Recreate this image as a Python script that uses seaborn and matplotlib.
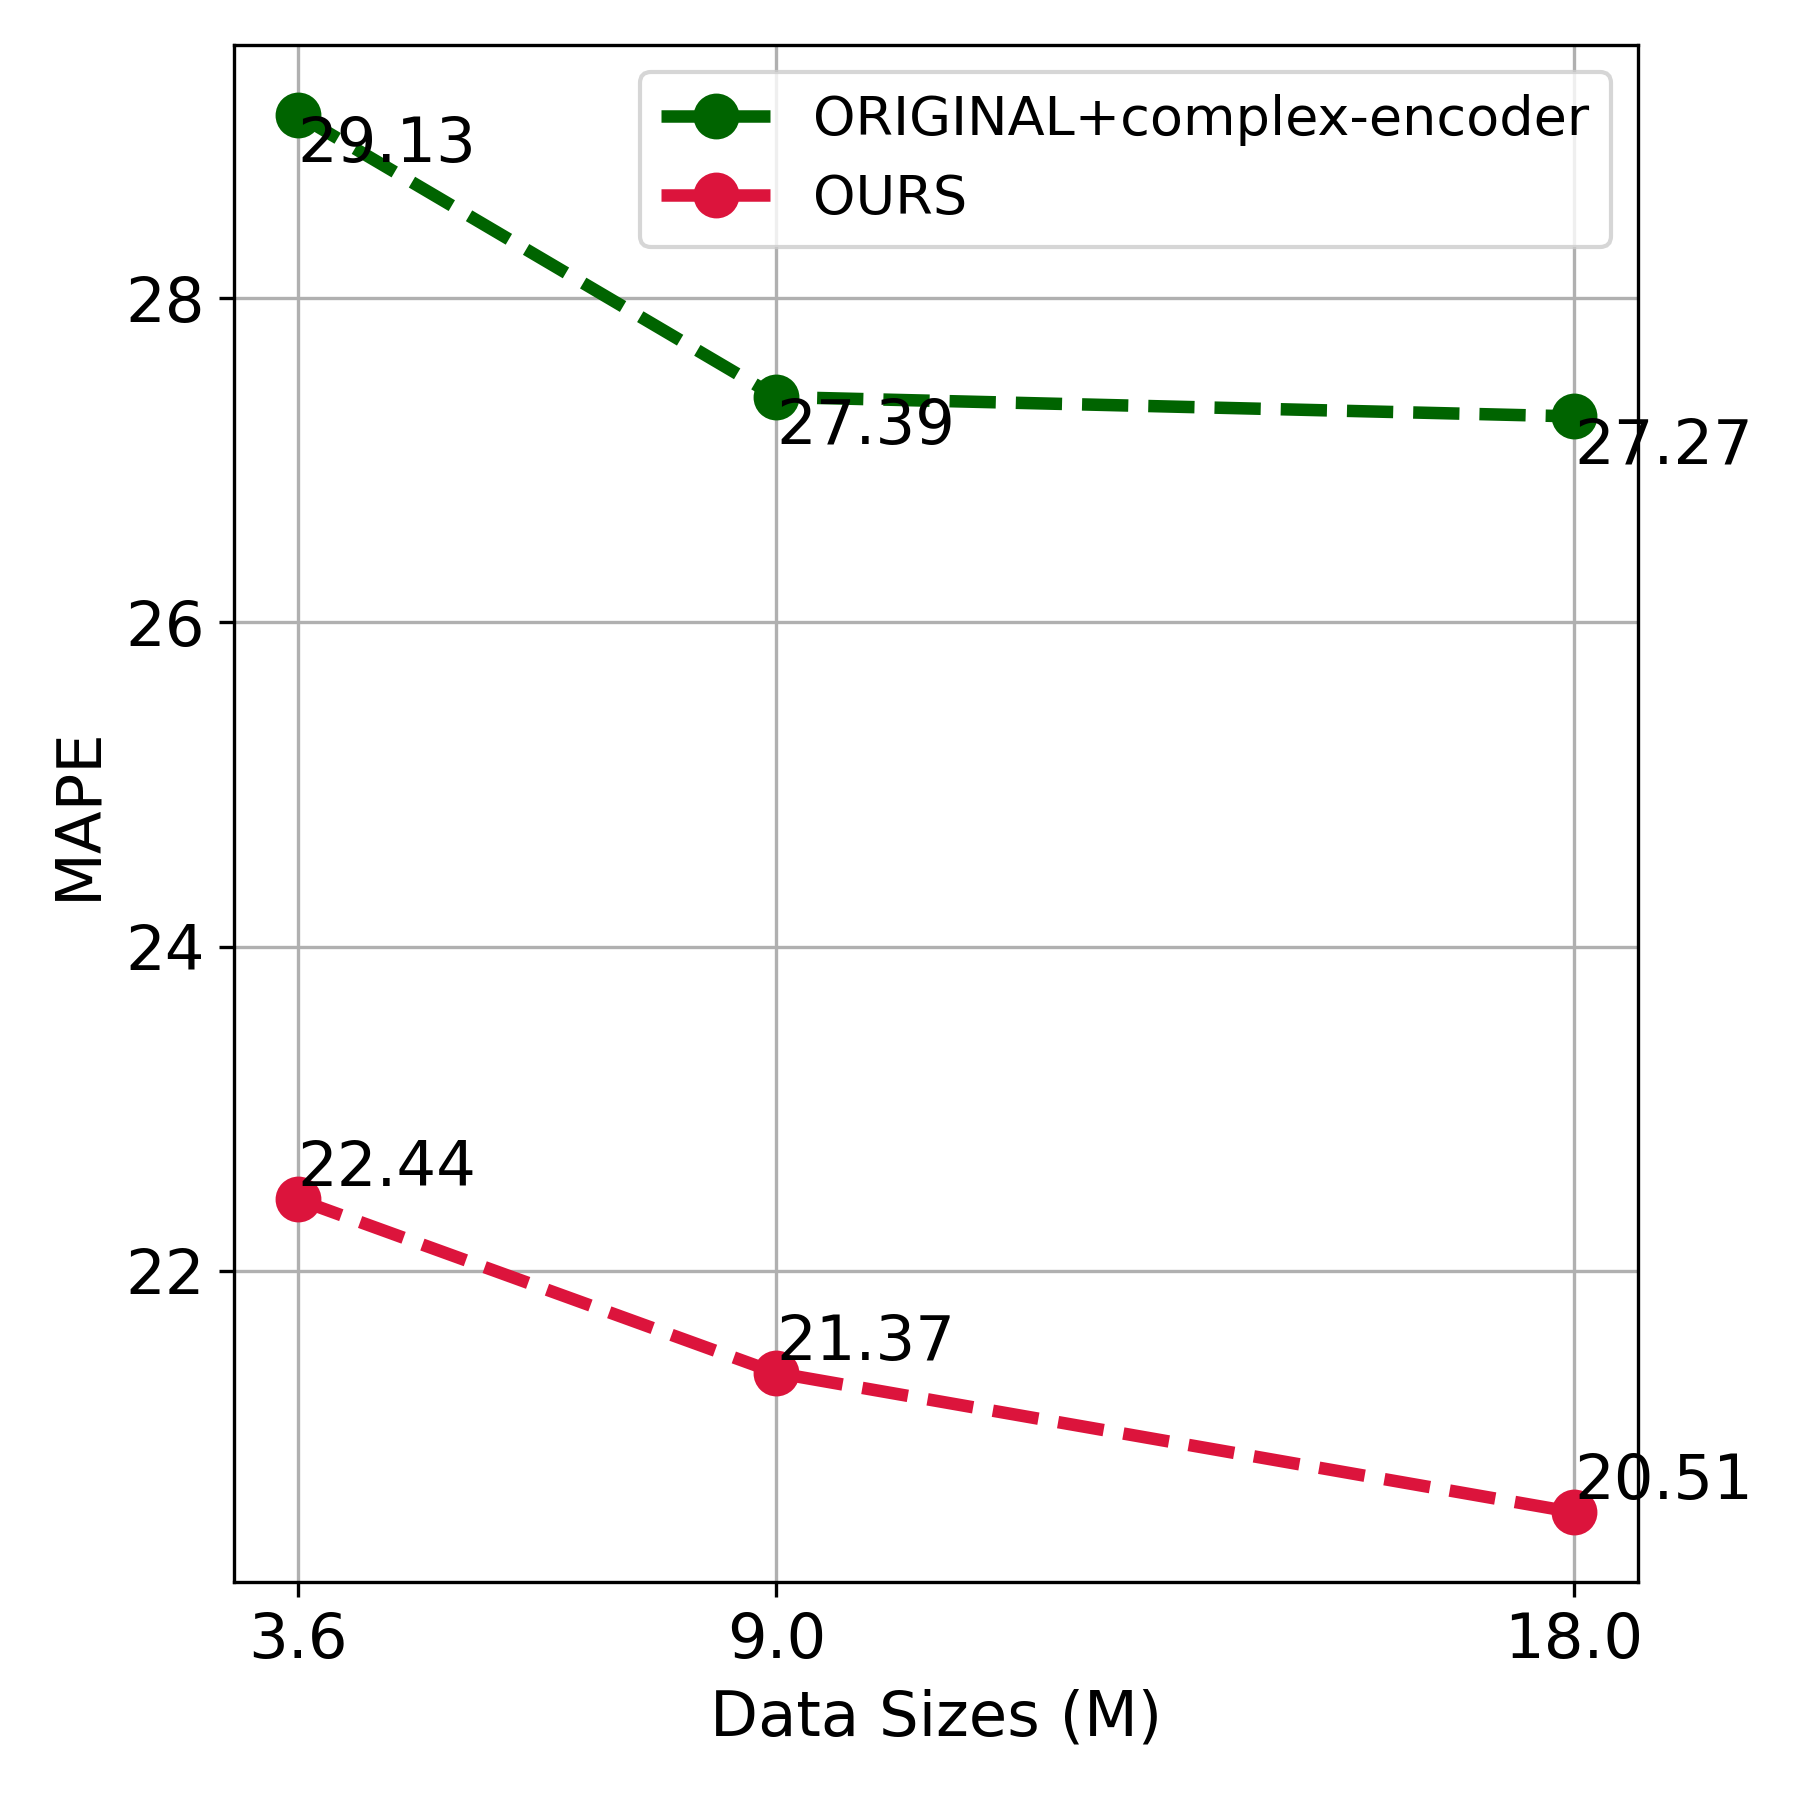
import matplotlib
matplotlib.use("Agg")
import matplotlib.pyplot as plt
import seaborn as sns
import pandas as pd

data_sizes = [3.6, 9.0, 18.0]
original_vals = [29.13, 27.39, 27.27]
ours_vals = [22.44, 21.37, 20.51]
series_names = ["ORIGINAL+complex-encoder", "OURS"]
colors = ["#006400", "#DC143C"]

sns.set_style("ticks")
plt.rcParams['font.family'] = ['DejaVu Sans']
plt.rcParams.update({
    "text.color": "black",
    "axes.labelcolor": "black",
    "xtick.color": "black",
    "ytick.color": "black",
    "axes.edgecolor": "black",
})

fig, ax = plt.subplots(figsize=(6, 6), dpi=300)

df_orig = pd.DataFrame({"x": data_sizes, "y": original_vals})
df_ours = pd.DataFrame({"x": data_sizes, "y": ours_vals})

sns.lineplot(data=df_orig, x="x", y="y", ax=ax, color=colors[0], marker="o",
             linestyle="--", linewidth=3, markersize=10, markeredgewidth=1,
             markeredgecolor=colors[0], label=series_names[0])
sns.lineplot(data=df_ours, x="x", y="y", ax=ax, color=colors[1], marker="o",
             linestyle="--", linewidth=3, markersize=10, markeredgewidth=1,
             markeredgecolor=colors[1], label=series_names[1])

for x, y in zip(data_sizes, original_vals):
    ax.text(x, y, f"{y:.2f}", ha="left", va="top", fontsize=15, color="black", zorder=5)
for x, y in zip(data_sizes, ours_vals):
    ax.text(x, y, f"{y:.2f}", ha="left", va="bottom", fontsize=15, color="black", zorder=5)

ax.set_xticks(data_sizes)
ax.set_xticklabels([f"{v:.1f}" for v in data_sizes])
ax.tick_params(axis="both", labelsize=15, direction="out", length=3.5, width=0.8,
               color="black", labelcolor="black")
ax.set_xlabel("Data Sizes (M)", fontsize=15, color="black")
ax.set_ylabel("MAPE", fontsize=15, color="black")
ax.grid(True, color="#b0b0b0", linewidth=0.8)
for s in ax.spines.values():
    s.set_visible(True)
    s.set_color("black")
    s.set_linewidth(0.8)

leg = ax.legend(loc="upper right", fontsize=13, frameon=True)
for t in leg.get_texts():
    t.set_color("black")

fig.subplots_adjust(left=0.130, right=0.910, top=0.975, bottom=0.121)
fig.savefig("out.png", dpi=300)
